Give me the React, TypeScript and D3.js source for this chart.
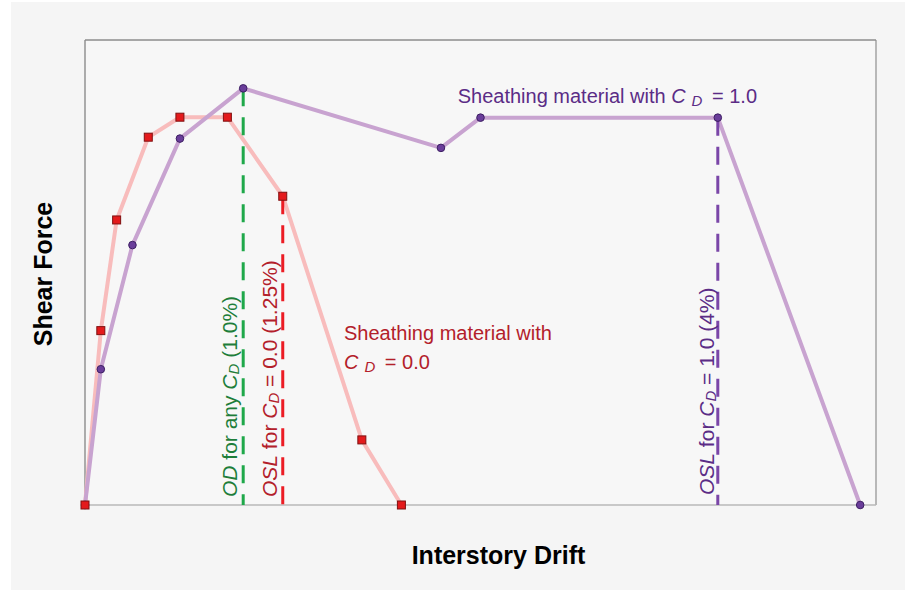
import React from "react";
import * as d3 from "d3";

// Interstory drift (%) and shear force (relative units)
const cd1Drift = [0, 0.1, 0.3, 0.6, 1.0, 2.25, 2.5, 4.0, 4.9];
const cd1Force = [0, 29.2, 55.9, 78.8, 89.6, 76.8, 83.3, 83.3, 0];
const cd0Drift = [0, 0.1, 0.2, 0.4, 0.6, 0.9, 1.25, 1.75, 2.0];
const cd0Force = [0, 37.5, 61.3, 79.1, 83.4, 83.4, 66.4, 14.0, 0];

const odDrift = 1.0;
const odForce = 89.6;
const osl0Drift = 1.25;
const osl0Force = 66.4;
const osl1Drift = 4.0;
const osl1Force = 83.3;

const xTitle = "Interstory Drift";
const yTitle = "Shear Force";

const W = 905;
const H = 590;
const L = 85, R = 876, T = 40, B = 505;
const FONT = "'Liberation Sans', Arial, Helvetica, sans-serif";

export default function App() {
  const x = d3.scaleLinear().domain([0, 5]).range([L, R]);
  const y = d3.scaleLinear().domain([0, 100]).range([B, T]);

  const cd1 = cd1Drift.map((d, i) => [d, cd1Force[i]] as [number, number]);
  const cd0 = cd0Drift.map((d, i) => [d, cd0Force[i]] as [number, number]);
  const line = d3
    .line<[number, number]>()
    .x((d) => x(d[0]))
    .y((d) => y(d[1]));

  const dash = "18,11";

  return (
    <svg
      width={W}
      height={H}
      style={{ position: "absolute", left: 0, top: 0 }}
      fontFamily={FONT}
    >
      <rect x={11} y={2} width={W - 11} height={H - 2} fill="#f5f5f5" />
      <rect x={L} y={T} width={R - L} height={B - T} fill="#f7f7f7" />
      {/* frame */}
      <line x1={R} y1={T} x2={R} y2={B} stroke="#b8b8b8" strokeWidth={2} />
      <line x1={L} y1={B} x2={R} y2={B} stroke="#b8b8b8" strokeWidth={1.6} />
      <line x1={L} y1={T} x2={R} y2={T} stroke="#8c8c8c" strokeWidth={1.4} />
      <line x1={L} y1={T} x2={L} y2={B} stroke="#8c8c8c" strokeWidth={1.4} />

      {/* series lines */}
      <path d={line(cd0) || ""} fill="none" stroke="#f8bcbc" strokeWidth={4} strokeLinejoin="round" />
      <path d={line(cd1) || ""} fill="none" stroke="#c8a3d0" strokeWidth={4} strokeLinejoin="round" />

      {/* dashed markers */}
      <line x1={x(odDrift)} x2={x(odDrift)} y1={y(odForce)} y2={y(0)} stroke="#1fa84a" strokeWidth={3} strokeDasharray={dash} />
      <line x1={x(osl0Drift)} x2={x(osl0Drift)} y1={y(osl0Force)} y2={y(0)} stroke="#ec1c24" strokeWidth={3} strokeDasharray={dash} />
      <line x1={x(osl1Drift)} x2={x(osl1Drift)} y1={y(osl1Force)} y2={y(0)} stroke="#7a46a8" strokeWidth={3} strokeDasharray={dash} />

      {/* markers */}
      {cd1.map((d, i) => (
        <circle key={"c" + i} cx={x(d[0])} cy={y(d[1])} r={3.8} fill="#6a3d9a" stroke="#3d1f63" strokeWidth={1} />
      ))}
      {cd0.map((d, i) => (
        <rect key={"s" + i} x={x(d[0]) - 4} y={y(d[1]) - 4} width={8} height={8} fill="#e41a1c" stroke="#7f1010" strokeWidth={1} />
      ))}

      {/* rotated labels */}
      <text transform={`translate(${x(odDrift) - 6},497) rotate(-90)`} fontSize={21} fill="#1e7e3a">
        <tspan fontStyle="italic">OD</tspan>
        <tspan>{"  for any "}</tspan>
        <tspan fontStyle="italic">C</tspan>
        <tspan fontStyle="italic" fontSize={15} dy={2}>D</tspan>
        <tspan dy={-2}>{"  (1.0%)"}</tspan>
      </text>
      <text transform={`translate(${x(osl0Drift) - 6},497) rotate(-90)`} fontSize={21} fill="#b3202a">
        <tspan fontStyle="italic">OSL</tspan>
        <tspan>{"  for "}</tspan>
        <tspan fontStyle="italic">C</tspan>
        <tspan fontStyle="italic" fontSize={15} dy={2}>D</tspan>
        <tspan dy={-2}>{" = 0.0 (1.25%)"}</tspan>
      </text>
      <text transform={`translate(${x(osl1Drift) - 4},495) rotate(-90)`} fontSize={21} fill="#5b2c86">
        <tspan fontStyle="italic">OSL</tspan>
        <tspan>{"  for "}</tspan>
        <tspan fontStyle="italic">C</tspan>
        <tspan fontStyle="italic" fontSize={15} dy={2}>D</tspan>
        <tspan dy={-2}>{" = 1.0 (4%)"}</tspan>
      </text>

      {/* horizontal labels */}
      <text x={457.7} y={103.3} fontSize={20} fill="#5b2c86">
        <tspan>{"Sheathing material with "}</tspan>
        <tspan fontStyle="italic">C</tspan>
        <tspan fontStyle="italic" fontSize={15} dx={6} dy={3}>D</tspan>
        <tspan dx={4} dy={-3}>{" = 1.0"}</tspan>
      </text>
      <text x={344} y={340} fontSize={20} fill="#b3202a">Sheathing material with</text>
      <text x={344} y={369.3} fontSize={20} fill="#b3202a">
        <tspan fontStyle="italic">C</tspan>
        <tspan fontStyle="italic" fontSize={15} dx={6} dy={3}>D</tspan>
        <tspan dx={4} dy={-3}>{" = 0.0"}</tspan>
      </text>

      {/* axis titles */}
      <text x={(L + R) / 2 + 18} y={564} fontSize={25} fontWeight="bold" textAnchor="middle" fill="#000">
        {xTitle}
      </text>
      <text transform={`translate(52,274) rotate(-90)`} fontSize={25} fontWeight="bold" textAnchor="middle" fill="#000">
        {yTitle}
      </text>
    </svg>
  );
}
